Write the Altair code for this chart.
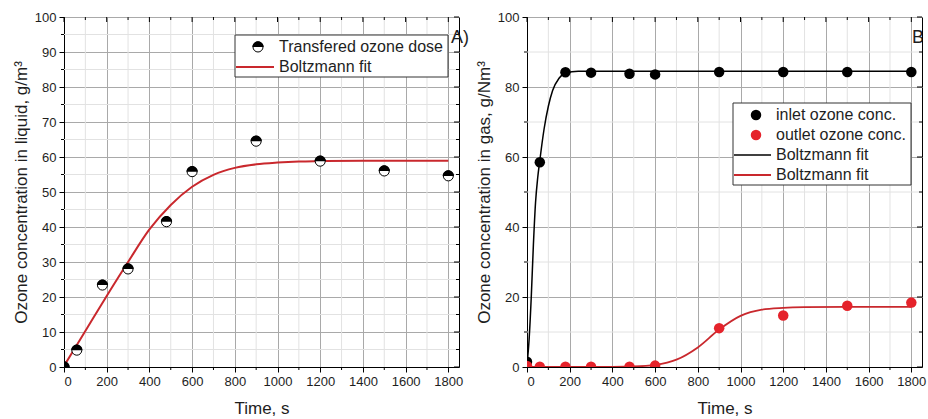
import altair as alt
import pandas as pd

FONT = "Liberation Sans"
RED_LINE = "#c9282d"
RED_PT = "#e5232b"
MAJOR_GRID = "#a9a9a9"
MINOR_GRID = "#e2e2e2"
TXT = "#1e1e1e"

# ---------- Panel A: transferred ozone dose (liquid) ----------
time_a = [0, 60, 180, 300, 480, 600, 900, 1200, 1500, 1800]
dose_a = [0.0, 4.8, 23.4, 28.0, 41.5, 55.8, 64.5, 58.8, 56.0, 54.6]
fit_a_time = [0, 100, 200, 300, 400, 500, 600, 700, 800, 900, 1000, 1100, 1200, 1400, 1800]
fit_a_val = [0.3, 10.3, 20.3, 30.0, 39.3, 46.3, 51.5, 54.9, 56.9, 57.9, 58.4, 58.7, 58.8, 58.9, 58.9]

# ---------- Panel B: ozone in gas ----------
time_b = [0, 60, 180, 300, 480, 600, 900, 1200, 1500, 1800]
inlet_b = [1.5, 58.5, 84.2, 84.1, 83.8, 83.6, 84.3, 84.3, 84.3, 84.3]
outlet_b = [0.3, 0.1, 0.1, 0.1, 0.1, 0.4, 11.1, 14.7, 17.5, 18.4]
fit_in_time = [0, 10, 20, 30, 40, 50, 60, 80, 100, 120, 150, 180, 240, 400, 1800]
fit_in_val = [0.5, 8.0, 20.0, 35.0, 47.0, 54.0, 59.0, 68.0, 74.5, 79.0, 82.5, 84.0, 84.5, 84.5, 84.5]
fit_out_time = [0, 400, 500, 600, 700, 800, 900, 1000, 1100, 1200, 1300, 1500, 1800]
fit_out_val = [0.0, 0.05, 0.15, 0.6, 2.1, 5.6, 10.7, 14.6, 16.4, 16.9, 17.1, 17.2, 17.2]

# ---------- tick positions ----------
x_major = [0, 200, 400, 600, 800, 1000, 1200, 1400, 1600, 1800]
x_minor = [100, 300, 500, 700, 900, 1100, 1300, 1500, 1700]
ya_major = [0, 10, 20, 30, 40, 50, 60, 70, 80, 90, 100]
ya_minor = [5, 15, 25, 35, 45, 55, 65, 75, 85, 95]
yb_major = [0, 20, 40, 60, 80, 100]
yb_minor = [10, 30, 50, 70, 90]

W, H = 395, 350
HALF_TOP = "M-1,0A1,1,0,0,1,1,0Z"

xs = alt.Scale(domain=[0, 1850], nice=False, zero=False)
ys = alt.Scale(domain=[0, 100], nice=False, zero=False)


def axis_kw():
    return dict(
        grid=True, gridColor=MAJOR_GRID, gridWidth=1,
        tickSize=5, tickColor="black", tickWidth=1,
        domainColor="black", domainWidth=1,
        labelFont=FONT, labelFontSize=13, labelColor=TXT,
        titleFont=FONT, titleFontSize=17, titleFontWeight="normal", titleColor=TXT,
    )


def frame_layers(X, Y, y_major, y_minor):
    dx_min = pd.DataFrame({"t": x_minor})
    dx_maj = pd.DataFrame({"t": x_major})
    dy_min = pd.DataFrame({"v": y_minor})
    dy_maj = pd.DataFrame({"v": y_major})
    return [
        alt.Chart(dx_min).mark_rule(color=MINOR_GRID, strokeWidth=1).encode(x=X),
        alt.Chart(dy_min).mark_rule(color=MINOR_GRID, strokeWidth=1).encode(y=Y),
        # minor ticks bottom / left (outward)
        alt.Chart(dx_min).mark_rule(color="black", strokeWidth=1).encode(
            x=X, y=alt.value(H), y2=alt.value(H + 3)),
        alt.Chart(dy_min).mark_rule(color="black", strokeWidth=1).encode(
            y=Y, x=alt.value(0), x2=alt.value(-3)),
        # mirrored ticks top / right (inward)
        alt.Chart(dx_maj).mark_rule(color="black", strokeWidth=1).encode(
            x=X, y=alt.value(0), y2=alt.value(5)),
        alt.Chart(dx_min).mark_rule(color="black", strokeWidth=1).encode(
            x=X, y=alt.value(0), y2=alt.value(3)),
        alt.Chart(dy_maj).mark_rule(color="black", strokeWidth=1).encode(
            y=Y, x=alt.value(W), x2=alt.value(W - 5)),
        alt.Chart(dy_min).mark_rule(color="black", strokeWidth=1).encode(
            y=Y, x=alt.value(W), x2=alt.value(W - 3)),
    ]


def legend_text(label, x, y):
    return alt.Chart().mark_text(
        text=label, align="left", baseline="middle", font=FONT, fontSize=16, color=TXT
    ).encode(x=alt.value(x), y=alt.value(y))


# ================= Panel A =================
xA = alt.X("t:Q", scale=xs, axis=alt.Axis(values=x_major, format="d", title="Time, s",
                                         labelPadding=3, titlePadding=12, **axis_kw()))
yA = alt.Y("v:Q", scale=ys, axis=alt.Axis(values=ya_major, format="d",
                                         title="Ozone concentration in liquid, g/m³",
                                         labelPadding=3, titlePadding=4, **axis_kw()))

df_a = pd.DataFrame({"t": time_a, "v": dose_a})
df_fit_a = pd.DataFrame({"t": fit_a_time, "v": fit_a_val})

layers_a = frame_layers(xA, yA, ya_major, ya_minor) + [
    alt.Chart(df_fit_a).mark_line(color=RED_LINE, strokeWidth=2, interpolate="monotone",
                                  clip=True).encode(x=xA, y=yA),
    alt.Chart(df_a).mark_point(shape="circle", filled=True, fill="white", stroke="black",
                               strokeWidth=1, size=100, opacity=1, clip=True).encode(x=xA, y=yA),
    alt.Chart(df_a).mark_point(shape=HALF_TOP, filled=True, fill="black", strokeWidth=0,
                               size=127, opacity=1, clip=True).encode(x=xA, y=yA),
    # legend
    alt.Chart().mark_rect(fill="white", stroke="#333333", strokeWidth=1).encode(
        x=alt.value(171), x2=alt.value(384), y=alt.value(18), y2=alt.value(60)),
    alt.Chart().mark_point(shape="circle", filled=True, fill="white", stroke="black",
                           strokeWidth=1, size=100, opacity=1).encode(
        x=alt.value(194), y=alt.value(30)),
    alt.Chart().mark_point(shape=HALF_TOP, filled=True, fill="black", strokeWidth=0,
                           size=127, opacity=1).encode(x=alt.value(194), y=alt.value(30)),
    legend_text("Transfered ozone dose", 215, 30),
    alt.Chart().mark_rule(color=RED_LINE, strokeWidth=2).encode(
        x=alt.value(172), x2=alt.value(210), y=alt.value(50)),
    legend_text("Boltzmann fit", 215, 50),
    alt.Chart().mark_text(text="A)", align="left", baseline="alphabetic", font=FONT,
                          fontSize=18, color=TXT).encode(x=alt.value(387), y=alt.value(26)),
]
panel_a = alt.layer(*layers_a).properties(width=W, height=H)

# ================= Panel B =================
xB = alt.X("t:Q", scale=xs, axis=alt.Axis(values=x_major, format="d", title="Time, s",
                                         labelPadding=3, titlePadding=12, **axis_kw()))
yB = alt.Y("v:Q", scale=ys, axis=alt.Axis(values=yb_major, format="d",
                                         title="Ozone concentration in gas, g/Nm³",
                                         labelPadding=3, titlePadding=4, **axis_kw()))

df_in = pd.DataFrame({"t": time_b, "v": inlet_b})
df_out = pd.DataFrame({"t": time_b, "v": outlet_b})
df_fit_in = pd.DataFrame({"t": fit_in_time, "v": fit_in_val})
df_fit_out = pd.DataFrame({"t": fit_out_time, "v": fit_out_val})

layers_b = frame_layers(xB, yB, yb_major, yb_minor) + [
    alt.Chart(df_fit_in).mark_line(color="black", strokeWidth=1.5, interpolate="monotone",
                                   clip=True).encode(x=xB, y=yB),
    alt.Chart(df_fit_out).mark_line(color=RED_LINE, strokeWidth=1.8, interpolate="monotone",
                                    clip=True).encode(x=xB, y=yB),
    alt.Chart(df_in).mark_point(shape="circle", filled=True, color="black", size=110,
                                opacity=1, clip=True).encode(x=xB, y=yB),
    alt.Chart(df_out).mark_point(shape="circle", filled=True, color=RED_PT, size=110,
                                 opacity=1, clip=True).encode(x=xB, y=yB),
    # legend
    alt.Chart().mark_rect(fill="white", stroke="#333333", strokeWidth=1).encode(
        x=alt.value(206), x2=alt.value(384), y=alt.value(86), y2=alt.value(168)),
    alt.Chart().mark_point(shape="circle", filled=True, color="black", size=110,
                           opacity=1).encode(x=alt.value(229), y=alt.value(98)),
    legend_text("inlet ozone conc.", 249, 98),
    alt.Chart().mark_point(shape="circle", filled=True, color=RED_PT, size=110,
                           opacity=1).encode(x=alt.value(229), y=alt.value(118)),
    legend_text("outlet ozone conc.", 249, 118),
    alt.Chart().mark_rule(color="black", strokeWidth=1.5).encode(
        x=alt.value(207), x2=alt.value(244), y=alt.value(138)),
    legend_text("Boltzmann fit", 249, 138),
    alt.Chart().mark_rule(color=RED_LINE, strokeWidth=1.8).encode(
        x=alt.value(207), x2=alt.value(244), y=alt.value(158)),
    legend_text("Boltzmann fit", 249, 158),
    alt.Chart().mark_text(text="B)", align="left", baseline="alphabetic", font=FONT,
                          fontSize=18, color=TXT, clip=True).encode(
        x=alt.value(385), y=alt.value(26)),
]
panel_b = alt.layer(*layers_b).properties(width=W, height=H)

chart = (
    alt.hconcat(panel_a, panel_b, spacing=68, bounds="flush")
    .properties(padding={"left": 11, "top": 10, "right": 0, "bottom": 0})
    .configure_view(stroke="black", strokeWidth=1)
)

chart.save("out.html", embed_options={"renderer": "svg", "actions": False})
